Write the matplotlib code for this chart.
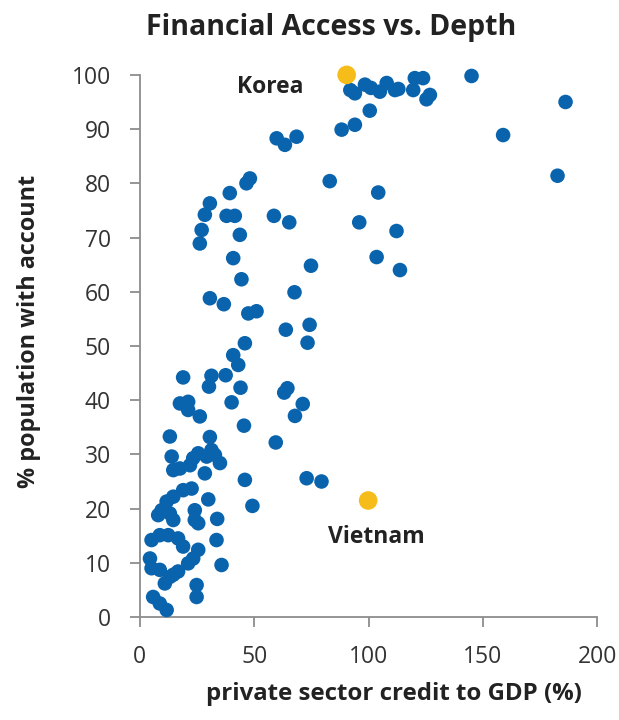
import matplotlib
matplotlib.use("Agg")
import matplotlib.pyplot as plt

# private sector credit to GDP (%) / % population with account
credit = [
    92, 94, 98.4, 101, 104.9, 107.9, 111.5, 113, 120.2, 123.8, 119.5, 125.3, 126.8, 145, 186.1,
    100.5, 88.2, 94, 158.8, 182.6,
    59.8, 63.4, 68.5, 48.1, 46.6, 83, 39.3, 30.6, 28.4, 37.9, 41.5, 27, 26.2, 43.7,
    58.6, 65.3, 95.9, 104.2, 112.2, 103.5, 113.7,
    40.8, 74.8, 44.4, 30.6, 36.7, 67.6, 47.4, 51, 63.8, 74.2, 73.3, 45.9,
    40.8, 43, 18.9, 31.3, 37.5, 30.2, 44, 64.5, 63.1, 40.1, 17.5, 21.1, 21.1, 26.2,
    71.2, 67.8, 45.5, 13.1, 30.6, 59.4,
    13.9, 14.6, 17.5, 21.9, 25.5, 29.2, 32.8, 35, 28.4, 31.3, 23.3,
    45.9, 72.9, 79.4, 49.2, 29.9,
    18.9, 22.6, 14.6, 11.7, 9.5, 8, 13.1, 14.6, 24, 24, 25.5, 33.8, 33.5, 35.7,
    5.1, 8.7, 12.4, 16.7, 18.9, 25.5, 23.3, 21.1, 4.4, 5.1, 8.7, 16.7, 13.1, 10.9, 14.6,
    24.8, 24.8, 5.8, 8.7, 11.7,
]
account = [
    97.2, 96.6, 98.2, 97.6, 96.9, 98.5, 97.2, 97.4, 99.4, 99.4, 97.2, 95.5, 96.3, 99.8, 95,
    93.4, 89.9, 90.8, 88.9, 81.4,
    88.3, 87.1, 88.6, 80.9, 80, 80.4, 78.2, 76.3, 74.2, 74, 74, 71.4, 68.9, 70.5,
    74, 72.8, 72.8, 78.3, 71.2, 66.4, 64,
    66.2, 64.8, 62.3, 58.8, 57.7, 59.9, 56, 56.4, 53, 53.9, 50.6, 50.5,
    48.3, 46.5, 44.2, 44.5, 44.6, 42.5, 42.3, 42.2, 41.4, 39.6, 39.4, 39.7, 38.2, 37,
    39.3, 37.1, 35.3, 33.3, 33.2, 32.2,
    29.6, 27.1, 27.4, 28, 30.2, 29.6, 29.9, 28.4, 26.5, 30.8, 29.3,
    25.3, 25.6, 25, 20.5, 21.7,
    23.4, 23.7, 22.2, 21.3, 19.7, 18.8, 19.1, 17.9, 19.7, 17.9, 17.3, 18.1, 14.2, 9.6,
    14.2, 15.1, 15.1, 14.5, 13, 12.4, 10.8, 9.9, 10.8, 9, 8.7, 8.4, 7.4, 6.2, 7.8,
    5.9, 3.7, 3.7, 2.5, 1.3,
]

highlight_names = ["Korea", "Vietnam"]
highlight_credit = [90.4, 99.8]
highlight_account = [100, 21.5]

blue = "#0a64ad"
gold = "#f6bd1a"
txt = "#222222"
grey = "#8c8c8c"

plt.rcParams["font.family"] = ["Open Sans", "DejaVu Sans"]

fig = plt.figure(figsize=(6.19, 7.2), dpi=100)
ax = fig.add_axes([0.226, 0.143, 0.739, 0.753])

ax.scatter(credit, account, s=110, color=blue, edgecolors="none", zorder=3, clip_on=False)
ax.scatter(highlight_credit, highlight_account, s=180, color=gold, edgecolors="none",
           zorder=4, clip_on=False)

# 국가 라벨
ax.text(56.8, 97.8, highlight_names[0], ha="center", va="center", fontsize=16.5,
        fontweight="bold", color=txt)
ax.text(103.5, 14.8, highlight_names[1], ha="center", va="center", fontsize=16.5,
        fontweight="bold", color=txt)

ax.set_xlim(0, 200)
ax.set_ylim(0, 100)
ax.set_xticks(range(0, 201, 50))
ax.set_yticks(range(0, 101, 10))

for side in ["top", "right"]:
    ax.spines[side].set_visible(False)
for side in ["left", "bottom"]:
    ax.spines[side].set_color(grey)
    ax.spines[side].set_linewidth(1.3)

ax.tick_params(axis="both", colors=grey, length=7, width=1.3, labelsize=16.5,
               labelcolor="#333333")
ax.tick_params(axis="x", pad=13)
ax.tick_params(axis="y", pad=14)

# 제목 / 축 라벨 (figure 좌표로 배치)
fig.text(331 / 619, 1 - 27 / 720, "Financial Access vs. Depth", ha="center", va="center",
         fontsize=20.5, fontweight="bold", color=txt)
fig.text(394 / 619, 1 - 694 / 720, "private sector credit to GDP (%)", ha="center",
         va="center", fontsize=17.3, fontweight="bold", color=txt)
fig.text(29 / 619, 1 - 331 / 720, "% population with account", ha="center", va="center",
         rotation=90, fontsize=16.8, fontweight="bold", color=txt)

fig.savefig("out.png", dpi=100, facecolor="white")
